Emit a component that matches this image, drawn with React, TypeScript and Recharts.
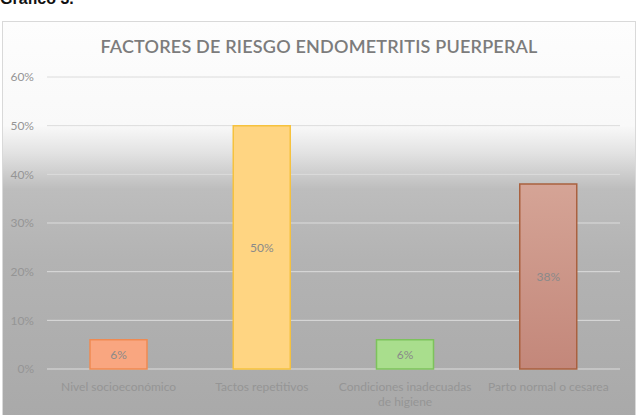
import React from "react";
import { BarChart, Bar, XAxis, YAxis, CartesianGrid, Cell, LabelList } from "recharts";

const categories = [
  "Nivel socioeconómico",
  "Tactos repetitivos",
  "Condiciones inadecuadas de higiene",
  "Parto normal o cesarea",
];
const tickLines: Record<string, string[]> = {
  "Nivel socioeconómico": ["Nivel socioeconómico"],
  "Tactos repetitivos": ["Tactos repetitivos"],
  "Condiciones inadecuadas de higiene": ["Condiciones inadecuadas", "de higiene"],
  "Parto normal o cesarea": ["Parto normal o cesarea"],
};
const values = [6, 50, 6, 38];
const yTicks = [0, 10, 20, 30, 40, 50, 60];
const fills = ["#f9a680", "#ffd582", "#a9de8d", "url(#bar4grad)"];
const strokes = ["#ef8a52", "#f6c23e", "#7dc25c", "#a9613f"];

const data = categories.map((c, i) => ({ name: c, value: values[i] }));

const FONT = "Lato, 'Open Sans', sans-serif";

const XTick = (props: any) => {
  const { x, y, payload } = props;
  const lines = tickLines[payload.value] || [payload.value];
  return (
    <text
      x={x}
      y={y + 14}
      textAnchor="middle"
      fill="#959595"
      fontSize={12}
      fontFamily={FONT}
    >
      {lines.map((l, i) => (
        <tspan key={i} x={x} dy={i === 0 ? 0 : 15}>
          {l}
        </tspan>
      ))}
    </text>
  );
};

export default function App() {
  return (
    <div
      style={{
        position: "fixed",
        left: 0,
        top: 0,
        width: 639,
        height: 415,
        overflow: "hidden",
        background: "#ffffff",
      }}
    >
      <div
        style={{
          position: "absolute",
          left: 0,
          top: -10,
          fontFamily: "'Liberation Sans', Arial, sans-serif",
          fontWeight: "bold",
          fontSize: 16,
          lineHeight: "18px",
          color: "#111",
        }}
      >
        Gráfico 3.
      </div>
      <div
        style={{
          position: "absolute",
          left: 2,
          top: 21,
          width: 634,
          height: 400,
          border: "1px solid #d9d9d9",
          boxSizing: "border-box",
          background:
            "linear-gradient(to bottom, #fdfdfd 0%, #f9f9f9 26%, #e2e2e2 33%, #bdbdbd 42%, #b3b3b3 60%, #a9a9a9 100%)",
        }}
      >
        <div
          style={{
            position: "absolute",
            left: 0,
            top: 13,
            width: 632,
            textAlign: "center",
            fontFamily: FONT,
            fontSize: 18,
            fontWeight: 600,
            color: "#7c7c7c",
            letterSpacing: 0.2,
          }}
        >
          FACTORES DE RIESGO ENDOMETRITIS PUERPERAL
        </div>
        <BarChart
          width={632}
          height={394}
          data={data}
          margin={{ top: 55, right: 15, left: 0, bottom: 0 }}
          barCategoryGap="20%"
        >
          <defs>
            <linearGradient id="bar4grad" x1="0" y1="0" x2="0" y2="1">
              <stop offset="0%" stopColor="#d5a496" />
              <stop offset="100%" stopColor="#c3877a" />
            </linearGradient>
          </defs>
          <CartesianGrid vertical={false} stroke="#dcdcdc" strokeWidth={1} />
          <XAxis
            dataKey="name"
            axisLine={false}
            tickLine={false}
            interval={0}
            height={47}
            tick={<XTick />}
          />
          <YAxis
            domain={[0, 60]}
            ticks={yTicks}
            width={44}
            axisLine={false}
            tickLine={false}
            tickFormatter={(v: number) => `${v}%`}
            tick={{ fill: "#959595", fontSize: 12, fontFamily: FONT, dx: -5 }}
          />
          <Bar dataKey="value" barSize={57} isAnimationActive={false} strokeWidth={1.5}>
            {data.map((d, i) => (
              <Cell key={d.name} fill={fills[i]} stroke={strokes[i]} />
            ))}
            <LabelList
              dataKey="value"
              position="center"
              formatter={(v: any) => `${v}%`}
              fill="#8a8a8a"
              fontSize={12}
              fontFamily={FONT}
            />
          </Bar>
        </BarChart>
      </div>
    </div>
  );
}
